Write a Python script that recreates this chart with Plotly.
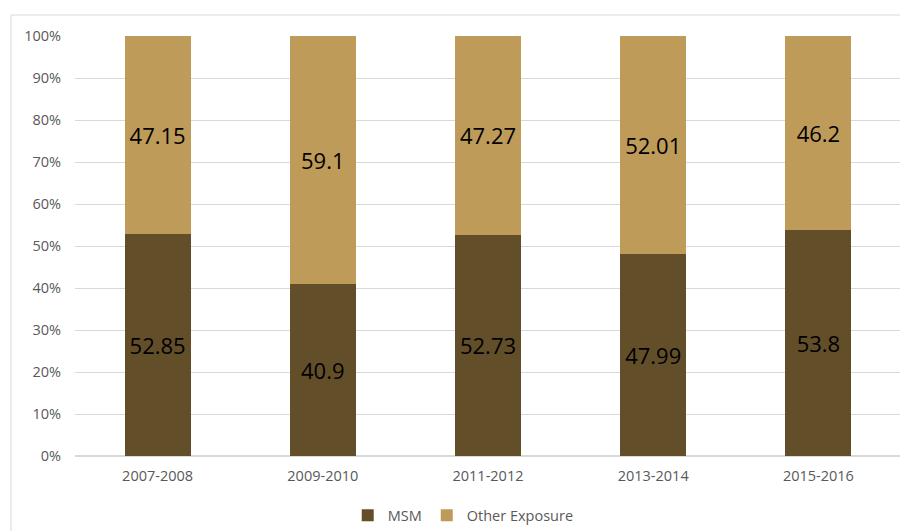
import plotly.graph_objects as go

categories = ["2007-2008", "2009-2010", "2011-2012", "2013-2014", "2015-2016"]
msm = [52.85, 40.9, 52.73, 47.99, 53.8]
other = [47.15, 59.1, 47.27, 52.01, 46.2]
msm_labels = ["52.85", "40.9", "52.73", "47.99", "53.8"]
other_labels = ["47.15", "59.1", "47.27", "52.01", "46.2"]

FONT = "Open Sans, Liberation Sans, sans-serif"

fig = go.Figure()
fig.add_trace(go.Bar(
    x=categories, y=msm, name="MSM", marker=dict(color="#634E2A", line=dict(width=0)),
    text=msm_labels, textposition="inside", insidetextanchor="middle",
    textfont=dict(size=22, color="#000000", family=FONT), width=0.4,
))
fig.add_trace(go.Bar(
    x=categories, y=other, name="Other Exposure", marker=dict(color="#BF9B5A", line=dict(width=0)),
    text=other_labels, textposition="inside", insidetextanchor="middle",
    textfont=dict(size=22, color="#000000", family=FONT), width=0.4,
))

fig.update_layout(
    width=900, height=523,
    barmode="stack",
    paper_bgcolor="white", plot_bgcolor="white",
    margin=dict(l=67, r=7, t=28, b=75, autoexpand=False),
    font=dict(family=FONT, size=14.5, color="#595959"),
    uniformtext=dict(mode=False),
    legend=dict(orientation="h", x=0.47, xanchor="center", yref="container", y=0.03, yanchor="middle",
                font=dict(size=14.5, color="#595959"), traceorder="normal"),
    yaxis=dict(range=[0, 100], dtick=10, ticksuffix="%", showgrid=True, gridcolor="#D9D9D9",
               gridwidth=1, zeroline=True, zerolinecolor="#D9D9D9", showline=False,
               tickfont=dict(size=14.5, color="#595959"), ticks="", ticklen=0, ticklabelstandoff=13),
    xaxis=dict(showgrid=False, showline=False, tickfont=dict(size=14.5, color="#595959"), ticks="",
               ticklabelstandoff=9),
    shapes=[dict(type="rect", xref="paper", yref="paper", x0=-0.0775, x1=1.2, y0=-0.3, y1=1.05,
                 line=dict(color="#D9D9D9", width=1), fillcolor="rgba(0,0,0,0)", layer="below")],
)

fig.write_html("out.html")
